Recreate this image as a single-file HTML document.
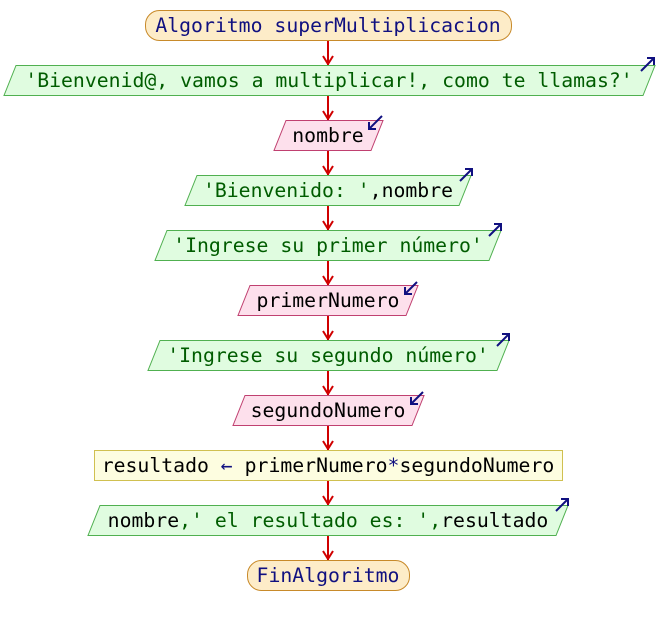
<!DOCTYPE html>
<html><head><meta charset="utf-8"><style>
html,body{margin:0;padding:0;background:#fff;}
svg{display:block;}
text{font-family:"DejaVu Sans Mono","Liberation Mono",monospace;font-size:19.8px;}
</style></head><body>
<svg width="656" height="625" viewBox="0 0 656 625" xmlns="http://www.w3.org/2000/svg">
<g stroke="#d00000" stroke-width="2" fill="none">
<line x1="328" y1="40" x2="328" y2="65"/>
<line x1="328" y1="95" x2="328" y2="120"/>
<line x1="328" y1="150" x2="328" y2="175"/>
<line x1="328" y1="205" x2="328" y2="230"/>
<line x1="328" y1="260" x2="328" y2="285"/>
<line x1="328" y1="315" x2="328" y2="340"/>
<line x1="328" y1="370" x2="328" y2="395"/>
<line x1="328" y1="425" x2="328" y2="450"/>
<line x1="328" y1="480" x2="328" y2="505"/>
<line x1="328" y1="535" x2="328" y2="560"/>
<path d="M323,56 L328,64 L333,56 M323,111 L328,119 L333,111 M323,166 L328,174 L333,166 M323,221 L328,229 L333,221 M323,276 L328,284 L333,276 M323,331 L328,339 L333,331 M323,386 L328,394 L333,386 M323,441 L328,449 L333,441 M323,496 L328,504 L333,496 M323,551 L328,559 L333,551"/>
</g>
<rect x="145.5" y="10.5" width="366" height="30" rx="14" fill="#fdecc8" stroke="#c88a2a"/>
<text x="328" y="32" text-anchor="middle" fill="#101080">Algoritmo superMultiplicacion</text>
<polygon points="16,65.5 655,65.5 643,95.5 4,95.5" fill="#e0fce0" stroke="#50b050"/>
<text x="329" y="87" text-anchor="middle" fill="#005c00">'Bienvenid@, vamos a multiplicar!, como te llamas?'</text>
<polygon points="286,120.5 383,120.5 371,150.5 274,150.5" fill="#fde0ec" stroke="#c04070"/>
<text x="328" y="142" text-anchor="middle" fill="#000">nombre</text>
<polygon points="197,175.5 471,175.5 459,205.5 185,205.5" fill="#e0fce0" stroke="#50b050"/>
<text x="328" y="197" text-anchor="middle" fill="#005c00">'Bienvenido: '<tspan fill="#000">,nombre</tspan></text>
<polygon points="167,230.5 501,230.5 489,260.5 155,260.5" fill="#e0fce0" stroke="#50b050"/>
<text x="328" y="252" text-anchor="middle" fill="#005c00">'Ingrese su primer número'</text>
<polygon points="250,285.5 418,285.5 406,315.5 238,315.5" fill="#fde0ec" stroke="#c04070"/>
<text x="328" y="307" text-anchor="middle" fill="#000">primerNumero</text>
<polygon points="160,340.5 509,340.5 497,370.5 148,370.5" fill="#e0fce0" stroke="#50b050"/>
<text x="328" y="362" text-anchor="middle" fill="#005c00">'Ingrese su segundo número'</text>
<polygon points="245,395.5 424,395.5 412,425.5 233,425.5" fill="#fde0ec" stroke="#c04070"/>
<text x="328" y="417" text-anchor="middle" fill="#000">segundoNumero</text>
<rect x="94.5" y="450.5" width="468" height="30" fill="#fdfde0" stroke="#d0c050"/>
<text x="328" y="472" text-anchor="middle" fill="#000">resultado <tspan fill="#101080">←</tspan> primerNumero<tspan fill="#101080">*</tspan>segundoNumero</text>
<polygon points="100,505.5 568,505.5 556,535.5 88,535.5" fill="#e0fce0" stroke="#50b050"/>
<text x="328" y="527" text-anchor="middle" fill="#000">nombre<tspan fill="#005c00">,' el resultado es: ',</tspan>resultado</text>
<rect x="247.5" y="560.5" width="162" height="30" rx="14" fill="#fdecc8" stroke="#c88a2a"/>
<text x="328" y="582" text-anchor="middle" fill="#101080">FinAlgoritmo</text>
<g stroke="#101080" stroke-width="2" fill="none">
<path d="M641,71 L654,58 M647,58 L654,58 L654,65"/>
<path d="M369,129 L382,116 M369,122 L369,129 L376,129"/>
<path d="M460,181 L472,169 M465,169 L472,169 L472,176"/>
<path d="M489,236 L501,224 M494,224 L501,224 L501,231"/>
<path d="M405,294 L417,282 M405,287 L405,294 L412,294"/>
<path d="M497,346 L509,334 M502,334 L509,334 L509,341"/>
<path d="M411,404 L423,392 M411,397 L411,404 L418,404"/>
<path d="M556,511 L568,499 M561,499 L568,499 L568,506"/>
</g>
</svg>
</body></html>
